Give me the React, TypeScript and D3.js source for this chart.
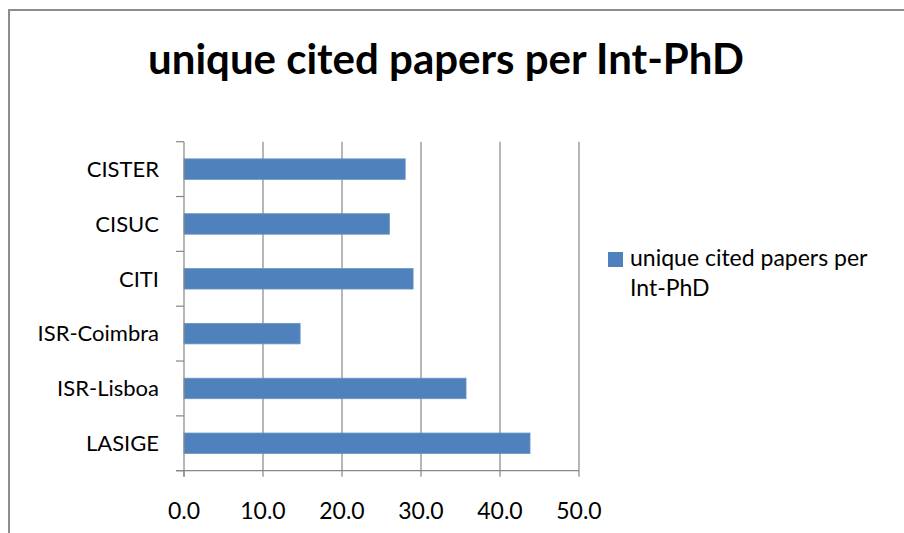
import React from "react";
import * as d3 from "d3";

const categories = ["CISTER", "CISUC", "CITI", "ISR-Coimbra", "ISR-Lisboa", "LASIGE"];
const values = [28.0, 26.0, 29.0, 14.7, 35.7, 43.8];
const xTicks = [0, 10, 20, 30, 40, 50];
const title = "unique cited papers per Int-PhD";
const legendLines = ["unique cited papers per", "Int-PhD"];

const W = 904;
const H = 533;
const FONT = "Lato, 'Open Sans', sans-serif";

export default function App() {
  const left = 184;
  const right = 579;
  const top = 141.7;
  const bottom = 470.7;

  const x = d3.scaleLinear().domain([0, 50]).range([left, right]);
  const y = d3
    .scaleBand<string>()
    .domain(categories)
    .range([top, bottom])
    .paddingInner(0.626)
    .paddingOuter(0.313);

  const step = (bottom - top) / categories.length;
  const catTicks = d3.range(categories.length + 1).map((i) => top + i * step);

  const grid = "#868686";

  return (
    <svg
      width={W}
      height={H}
      style={{ position: "absolute", left: 0, top: 0, background: "#fff" }}
      fontFamily={FONT}
    >
      <rect x={0} y={0} width={W} height={H} fill="#fff" />
      <rect x={9} y={10} width={W + 20} height={H + 20} fill="none" stroke="#8c8c8c" strokeWidth={2} />

      <text x={446} y={74} textAnchor="middle" fontSize={42} fontWeight={700} fill="#000">
        {title}
      </text>

      {/* gridlines */}
      {xTicks.slice(1).map((t) => (
        <line key={"g" + t} x1={x(t)} x2={x(t)} y1={top} y2={bottom} stroke={grid} strokeWidth={1.2} />
      ))}

      {/* bars */}
      {categories.map((c, i) => (
        <rect
          key={c}
          x={x(0)}
          y={y(c)!}
          width={x(values[i]) - x(0)}
          height={y.bandwidth()}
          fill="#4F81BD"
          stroke="#6a94c6"
          strokeWidth={0.8}
        />
      ))}

      {/* y axis */}
      <line x1={left} x2={left} y1={top} y2={bottom + 6} stroke={grid} strokeWidth={1.2} />
      {catTicks.map((t, i) => (
        <line key={"yt" + i} x1={left - 8} x2={left} y1={t} y2={t} stroke={grid} strokeWidth={1.2} />
      ))}
      {/* x axis */}
      <line x1={left - 8} x2={right} y1={bottom} y2={bottom} stroke={grid} strokeWidth={1.2} />
      {xTicks.map((t) => (
        <line key={"xt" + t} x1={x(t)} x2={x(t)} y1={bottom} y2={bottom + 6} stroke={grid} strokeWidth={1.2} />
      ))}

      {/* category labels */}
      {categories.map((c) => (
        <text
          key={"l" + c}
          x={159}
          y={y(c)! + y.bandwidth() / 2 + 7.8}
          textAnchor="end"
          fontSize={22}
          fill="#000"
        >
          {c}
        </text>
      ))}

      {/* x tick labels */}
      {xTicks.map((t) => (
        <text key={"xl" + t} x={x(t)} y={519} textAnchor="middle" fontSize={23} fill="#000">
          {t.toFixed(1)}
        </text>
      ))}

      {/* legend */}
      <rect x={608} y={252} width={15} height={15} fill="#4F81BD" />
      {legendLines.map((l, i) => (
        <text key={"lg" + i} x={630} y={266 + i * 30} fontSize={23} fill="#000">
          {l}
        </text>
      ))}
    </svg>
  );
}
